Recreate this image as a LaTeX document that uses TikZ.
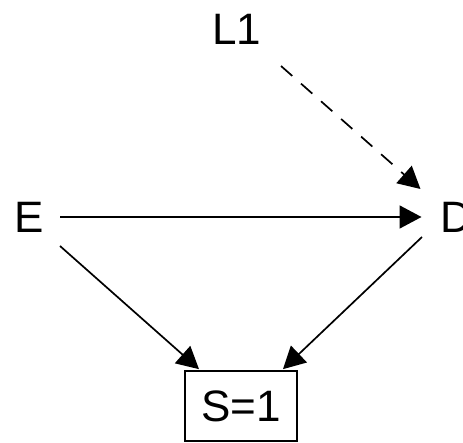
\documentclass[tikz,border=0pt]{standalone}
\usepackage{fontspec}
\setmainfont{Liberation Sans}
\usetikzlibrary{arrows.meta,calc}
\begin{document}
\begin{tikzpicture}[x=1pt,y=-1pt,
  lbl/.style={font=\fontsize{44}{50}\selectfont, inner sep=0pt, anchor=base},
  arr/.style={line width=1.7pt, -{Triangle[length=22pt,width=23pt]}},
  dsh/.style={arr, dash pattern=on 15pt off 11.7pt}]
\useasboundingbox (0,0) rectangle (463,443);
\node[lbl] (L1) at (237,45) {L1};
\node[lbl] (E) at (29.5,232.5) {E};
\node[lbl] (D) at (456,232.5) {D};
\node[draw, line width=1.7pt, minimum width=112pt, minimum height=70pt, inner sep=0pt, font=\fontsize{44}{50}\selectfont] (S) at (241,406) {S=1};
\draw[arr] ($(E.base)+(30.5,-15.5)$) -- ($(D.base)+(-34.5,-15.5)$);
\draw[arr] ($(E.base)+(30.5,13.5)$) -- ($(S.north)+(-42,-1)$);
\draw[arr] ($(D.base)+(-34,4.5)$) -- ($(S.north)+(42,-1)$);
\draw[dsh] ($(L1.base)+(44,21)$) -- ($(D.base)+(-35.5,-43.5)$);
\end{tikzpicture}
\end{document}
